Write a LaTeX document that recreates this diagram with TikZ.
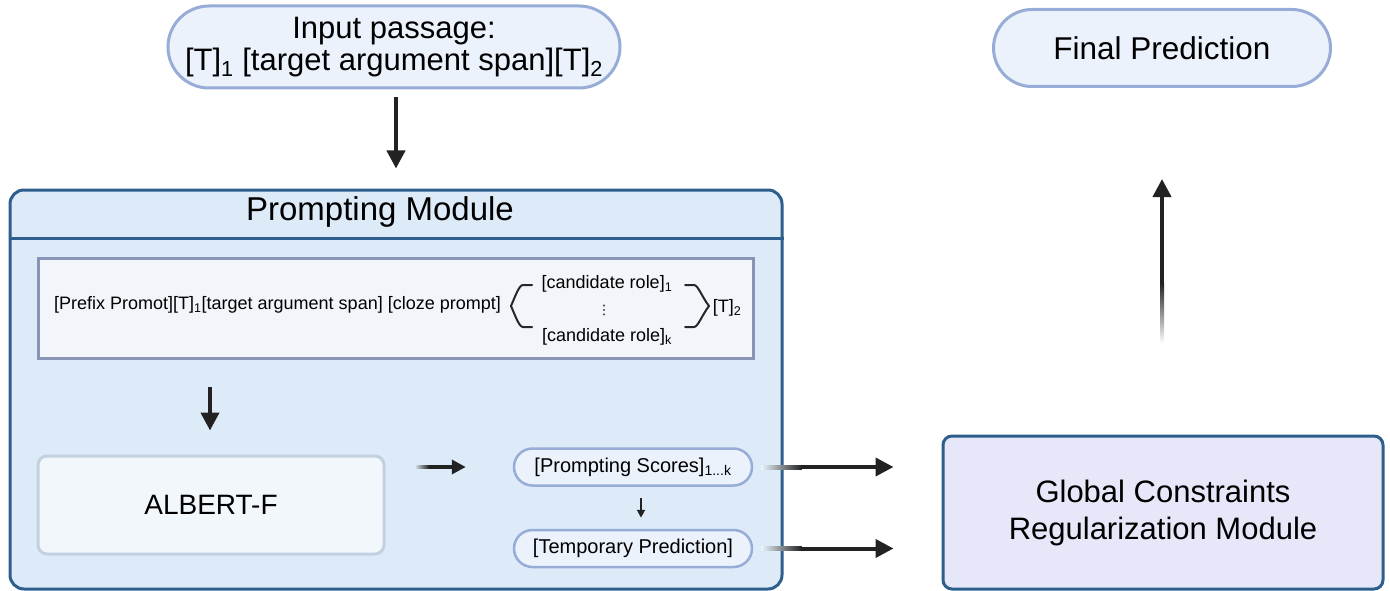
\documentclass[tikz,border=0pt]{standalone}
\usepackage{fontspec}
\setmainfont{Liberation Sans}
\newfontfamily\symfont{DejaVu Sans}
\usetikzlibrary{arrows.meta,calc}
\definecolor{pillfill}{HTML}{EBF2FC}
\definecolor{pilldraw}{HTML}{97ACD6}
\definecolor{modfill}{HTML}{DDEBF8}
\definecolor{moddraw}{HTML}{2E5F8C}
\definecolor{pbfill}{HTML}{F2F5FA}
\definecolor{pbdraw}{HTML}{8895B5}
\definecolor{albfill}{HTML}{F2F7FC}
\definecolor{albdraw}{HTML}{C3D0E0}
\definecolor{glfill}{HTML}{E6E7F8}
\definecolor{arrcol}{HTML}{222222}
\begin{document}
\begin{tikzpicture}[x=1pt,y=-1pt,
  bigtxt/.style={font=\fontsize{31}{35}\selectfont},
  pill/.style={draw=pilldraw, fill=pillfill, line width=3, inner sep=0, align=center},
  smallpill/.style={pill, line width=2.5, minimum width=238, minimum height=37, rounded corners=18.5, font=\fontsize{20}{24}\selectfont},
  bigarr/.style={draw=arrcol, line width=4, -{Triangle[length=18,width=18]}},
  midarr/.style={draw=arrcol, line width=3.5, -{Triangle[length=14,width=14]}},
  tinyarr/.style={draw=arrcol, line width=2, -{Triangle[length=8,width=8]}},
  promtxt/.style={font=\fontsize{18}{21}\selectfont, inner sep=0},
  brace/.style={draw=black!85, line width=2, line cap=round, line join=round}
]
\path[use as bounding box] (0,0) rectangle (1390,591);

% top pills
\node[pill, bigtxt, minimum width=452, minimum height=82, rounded corners=41] (in) at (394,47)
  {Input passage:\\[-3pt] [T]\textsubscript{1} [target argument span][T]\textsubscript{2}};
\node[pill, font=\fontsize{31.5}{35}\selectfont, minimum width=337, minimum height=77, rounded corners=38.5] (fin) at (1162,48) {Final Prediction};

% prompting module
\node[draw=moddraw, fill=modfill, line width=3, rounded corners=14, minimum width=772, minimum height=399, inner sep=0] (pm) at (396,389.5) {};
\coordinate (hdr) at (0,238);
\draw[moddraw, line width=3] (pm.west |- hdr) -- (pm.east |- hdr);
\node[font=\fontsize{33}{37}\selectfont, inner sep=0] (pmt) at (380,212) {Prompting Module};

% prompt box
\node[draw=pbdraw, fill=pbfill, line width=3, minimum width=715, minimum height=100, inner sep=0] (pb) at (395.5,308) {};
\node[promtxt] (pre) at (277.5,305) {[Prefix Promot][T]\textsubscript{1}[target argument span] [cloze prompt]};
\node[promtxt] (c1) at (607,284) {[candidate role]\textsubscript{1}};
\node[inner sep=0, font=\symfont\fontsize{13}{13}\selectfont] (dots) at (604,310) {⋮};
\node[promtxt] (ck) at (607,337) {[candidate role]\textsubscript{k}};
\node[promtxt] (t2) at (727,308) {[T]\textsubscript{2}};
\draw[brace] (532,285) -- (523,285) .. controls (519,285) and (515,297) .. (511,306) .. controls (515,315) and (519,327) .. (523,327) -- (532,327);
\draw[brace] (685,285) -- (694,285) .. controls (698,285) and (702,297) .. (709,306) .. controls (702,315) and (698,327) .. (694,327) -- (685,327);

% ALBERT
\node[draw=albdraw, fill=albfill, line width=3, rounded corners=9, minimum width=346, minimum height=98, inner sep=0, font=\fontsize{28}{32}\selectfont] (alb) at (211,505) {ALBERT-F};

% score pills
\node[smallpill] (sc) at (633,467) {[Prompting Scores]\textsubscript{1...k}};
\node[smallpill] (tp) at (633,548.5) {[Temporary Prediction]};

% global module
\node[draw=moddraw, fill=glfill, line width=3, rounded corners=9, minimum width=440, minimum height=153, inner sep=0, align=center, font=\fontsize{31}{37}\selectfont] (gl) at (1163,512.5) {Global Constraints\\Regularization Module};

% arrows
\draw[bigarr] ($(in.south)+(2,8)$) -- ($(pm.north)+(0,-20)$);
\draw[bigarr] ($(alb.north |- pb.south)+(-1,27)$) -- ($(alb.north)+(-1,-24)$);

% ALBERT -> scores (faded start)
\coordinate (a3s) at ($(alb.east |- sc.west)+(29,0)$);
\coordinate (a3m) at ($(a3s)+(14,0)$);
\shade[left color=modfill, right color=arrcol] ($(a3s)+(0,-1.75)$) rectangle ($(a3m)+(0.5,1.75)$);
\draw[midarr] (a3m) -- ($(sc.west)+(-47,0)$);

\draw[tinyarr] ($(sc.south)+(8,11)$) -- ($(tp.north)+(8,-11)$);

% scores -> global
\coordinate (a5s) at ($(sc.east)+(8,0)$);
\coordinate (a5m) at ($(a5s)+(40,0)$);
\shade[left color=modfill!60!white, right color=arrcol] ($(a5s)+(0,-2)$) rectangle ($(a5m)+(0.5,2)$);
\draw[bigarr] (a5m) -- ($(gl.west |- sc.east)+(-48,0)$);

% temp -> global
\coordinate (a6s) at ($(tp.east)+(8,0)$);
\coordinate (a6m) at ($(a6s)+(40,0)$);
\shade[left color=modfill!60!white, right color=arrcol] ($(a6s)+(0,-2)$) rectangle ($(a6m)+(0.5,2)$);
\draw[bigarr] (a6m) -- ($(gl.west |- tp.east)+(-48,0)$);

% global -> final
\coordinate (a7s) at ($(fin.south |- gl.north)+(0,-91)$);
\coordinate (a7m) at ($(a7s)+(0,-60)$);
\shade[bottom color=white, top color=arrcol] ($(a7s)+(-2,0)$) rectangle ($(a7m)+(2,-0.5)$);
\draw[bigarr] (a7m) -- ($(fin.south)+(0,91)$);
\end{tikzpicture}
\end{document}
